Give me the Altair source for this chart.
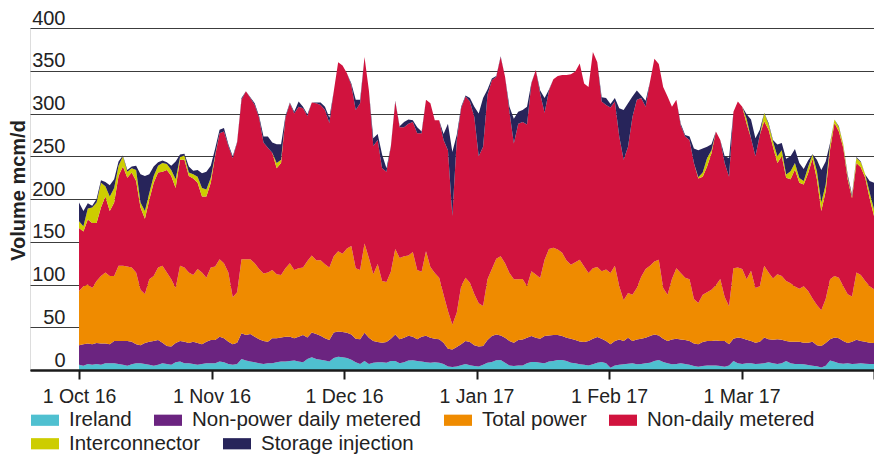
import altair as alt
import pandas as pd
import numpy as np

FONT = "Liberation Sans"

series_names = ["Ireland", "Non-power daily metered", "Total power",
                "Non-daily metered", "Interconnector", "Storage injection"]
colors = ["#4fc0d0", "#6b2480", "#ef8b00", "#d1133e", "#cdcd00", "#27245a"]
tick_labels = ["1 Oct 16", "1 Nov 16", "1 Dec 16", "1 Jan 17", "1 Feb 17", "1 Mar 17", ""]

dates = pd.date_range("2016-10-01", "2017-03-31", freq="D")  # daily, 182 days

# Cumulative stack boundaries (mcm/d), one value per day:
# each series fills the band between the previous boundary and its own.
top_ireland = [
    6, 5, 7, 6, 7, 6, 8, 8, 8, 7, 6, 5, 6.6, 8, 8, 7, 6, 5, 6, 8, 7, 6, 9, 10, 8, 8, 7, 6, 7, 8, 8, 8,
    10, 9, 7, 6, 7, 13, 11, 10, 9, 8, 7, 8, 8, 9, 10, 10, 10.5, 11, 10, 9, 13, 15, 13, 12, 11, 10, 14, 15.5, 15, 14,
    12, 9, 7, 10.5, 7, 8.5, 9, 9, 8.5, 10.5, 10.5, 8, 9, 11, 11.5, 10.5, 10, 9, 8.5, 9, 8.5, 7, 4, 3.5, 4, 5.5, 7, 5.5, 4.7, 4,
    6, 8.5, 9.3, 11.3, 11.7, 8.5, 5.4, 4.7, 5.4, 5.4, 7.8, 9.3, 9.3, 8.5, 7.8, 10, 10.5, 11.7, 11.7, 10.5, 8.5, 7.8, 6.6, 6.2, 5.4, 6.6, 8.5, 9.3, 7.8,
    2.7, 5.4, 6.2, 6.6, 7.4, 7.8, 6.6, 7, 7.8, 8.5, 10.5, 11.7, 9.3, 7.8, 6.6, 7, 7.8, 7, 6.2, 4.7, 3.9, 4.7, 5.4, 5.4, 5.4, 4.7, 3.9, 5.4, 10.5,
    8, 7, 7.8, 8, 7, 7.4, 8, 9, 8, 7, 8, 10.5, 8, 7, 7, 6.6, 5.8, 5, 4.3, 3, 5, 11, 9.7, 8, 7.4, 8, 7, 7.4, 8, 7.4, 7, 7,
]
top_npdm = [
    29, 30, 31, 30, 31.5, 31, 31, 30, 34, 34, 34, 34, 33, 30, 29, 31.5, 33, 34, 35, 32, 28, 27.6, 31.5, 34, 33, 31.5, 33, 31.5, 30, 33, 35, 35,
    39, 37, 33, 30, 32, 43, 41, 42, 39, 36, 34, 33, 37, 37, 38, 39, 39, 37, 39, 41, 38, 44, 42, 40, 37, 35, 44, 45, 44.5, 43.5,
    41.6, 36.5, 36, 43.5, 37.7, 34, 32.7, 32, 32.7, 36.5, 41.6, 36, 37.7, 40, 39, 36, 39, 40, 37.7, 36.5, 36, 32, 25, 24, 27, 30, 34, 32.7, 29, 27.5,
    28, 35, 39.7, 41.6, 40.4, 37.7, 34, 32, 35, 35.8, 37.7, 39.7, 37.7, 36.5, 39.7, 40.4, 41, 41, 39.7, 37.7, 36.5, 35, 33.4, 32.7, 34, 36.5, 38.5, 36.5, 34,
    30, 34, 35.8, 34, 37.7, 34, 35.8, 36.5, 37.7, 39.7, 41.6, 40.4, 36.5, 34, 35.8, 36.5, 35.8, 35, 34, 31, 30, 32.7, 34, 34, 34.6, 34, 34, 30, 36.5,
    38, 37, 35.4, 34, 32, 33, 38, 36, 35.4, 36, 35.4, 34, 33, 33, 33, 32, 32, 33, 29, 28, 31.5, 36, 38, 37, 34, 31.5, 33, 35.4, 34, 33, 32, 31.5,
]
top_power = [
    92.5, 98, 100, 96, 104, 110, 114, 110, 110, 122, 122, 121, 120, 114, 94, 89, 106, 110, 120, 122, 114, 106, 96, 122, 120, 114, 111, 118, 114, 108, 120, 121,
    129.5, 125, 114, 85, 91, 129.5, 129.5, 129.5, 125, 118, 113, 114, 117, 112, 111, 119, 125, 117, 119, 120, 127.5, 134, 128.5, 128.5, 123.6, 120, 133, 139, 136, 142,
    145, 119, 117, 148, 131, 112, 124, 104, 103, 115, 141.5, 131, 133, 134, 138, 117, 115, 139, 120.5, 113.5, 108, 88, 69, 53, 67, 98, 108, 102, 89, 78,
    75, 106, 118, 130, 133, 125, 113.5, 106, 106, 106.5, 98, 115.5, 111.6, 107.7, 129, 141.5, 143, 141, 137, 128, 123, 126, 129, 121, 113.5, 119, 120.5, 115.5, 117.4,
    113.5, 122, 98, 81.6, 90, 88, 96, 109, 118, 122, 127, 129, 96, 88, 106.5, 119, 113.5, 108, 106, 83, 78.5, 88, 91, 94, 99, 106.5, 85.5, 74.6, 119,
    120, 118, 106, 116, 96, 98, 122, 114, 107, 112, 110, 104, 101.5, 97.6, 95, 98, 92.5, 83.6, 76, 70, 83, 106, 110, 108, 98, 88.6, 86, 114, 111, 104, 98, 94.5,
]
top_ndm = [
    166, 162, 176, 172, 172, 190, 203, 186, 196, 227, 238, 225, 231, 221, 190, 177, 199, 219, 231, 232, 234, 227, 213, 246, 246, 227, 224, 219, 203, 203, 219, 251,
    277, 279, 262, 248, 266, 316, 326, 318, 310, 295, 266, 260, 254, 236, 242, 295, 312, 300, 308, 306, 297, 313, 312, 310, 304, 289, 326, 360, 356, 347,
    333, 304, 312, 366, 327, 262, 269, 236, 232, 261, 314, 284, 284, 288, 290, 277, 277, 316, 312, 292, 292, 269, 257, 180, 269, 306, 320, 314, 296, 250,
    261, 322, 339, 343, 366, 343, 302, 265, 288, 290, 287, 335, 351, 323, 301, 327, 340, 344, 345, 345, 346, 349, 358.5, 335, 331, 372, 360, 314, 310,
    307, 314, 273, 246, 261, 296, 316, 318, 308, 337, 364, 358, 331, 320, 308, 316, 286, 273, 269, 242, 224, 226, 238, 253.5, 279, 269, 242, 226, 302,
    314, 308, 288, 271, 250, 275, 291, 281, 261, 242, 250, 225, 223, 234.4, 219, 217, 230, 247, 223, 186, 209, 258, 289, 279, 260, 223, 201, 242, 237, 225, 201, 180,
]
top_ic = [
    174, 168, 189, 190, 196, 219, 215, 203, 213, 239, 250, 232, 236, 234, 196, 186, 207, 227, 239, 242, 241, 234, 223, 249, 251, 231, 229, 226, 213, 211, 225, 252,
    277, 279, 262, 248, 266, 316, 326, 318, 310, 295, 266, 260, 254, 242, 246, 295, 312, 300, 308, 306, 297, 313, 312, 310, 304, 289, 326, 360, 356, 347,
    333, 304, 312, 366, 327, 262, 269, 236, 232, 261, 314, 284, 284, 288, 290, 277, 277, 316, 312, 292, 292, 269, 257, 180, 269, 306, 320, 314, 296, 250,
    261, 322, 339, 343, 366, 343, 302, 265, 288, 290, 287, 335, 351, 323, 301, 327, 340, 344, 345, 345, 346, 349, 358.5, 335, 331, 372, 360, 314, 310,
    307, 314, 273, 246, 261, 296, 316, 318, 308, 337, 364, 358, 331, 320, 308, 316, 286, 273, 269, 242, 225.5, 231, 248, 257, 279, 269, 242, 226, 302,
    314, 308, 294, 271, 250, 275, 300.5, 287, 267.5, 250, 257, 228.6, 232.5, 242, 224.7, 221, 237.5, 252, 232.5, 196, 217, 263.6, 293, 284, 263.6, 226, 202.6, 248, 243, 228.6, 208, 188,
]
top_storage = [
    196, 186, 195, 192, 200, 222, 220, 216, 223, 244, 251, 234, 238, 239, 229, 227, 229, 238, 243, 245, 243, 239, 244, 252, 253, 238, 233, 234, 230, 232, 239, 259,
    281, 283, 264, 250, 267, 318, 326, 319, 312, 297, 273, 273, 266, 264, 264, 297, 313, 302, 314, 308, 299, 313, 313, 313, 308, 295, 326, 360, 356, 347,
    335, 316, 316, 366, 327, 271, 276, 252, 236, 262, 315, 285, 290, 293, 292, 284, 279, 316, 312, 292, 292, 276, 288, 255, 275, 308, 321, 318, 308, 300,
    318, 328, 341, 344, 367, 343, 308, 294, 302, 304, 308, 336, 351, 327, 318, 328, 340, 344, 345, 345, 346, 349, 358.5, 335, 331, 372, 360, 319, 318,
    311, 318, 306, 304, 312, 320, 327, 321, 315, 337, 364, 358, 331, 320, 308, 316, 288, 275, 273, 259, 257, 259, 261, 264, 279, 269, 250, 248, 302,
    314, 308, 299, 293, 271, 281, 301, 289, 269, 263.6, 265.6, 247, 250, 258.5, 242, 235, 245, 252.3, 246, 234, 244, 265.6, 293, 285, 264, 228.6, 205, 249, 244, 228.6, 221, 219,
]

n = len(dates)
bounds = [[0.0] * n, top_ireland, top_npdm, top_power, top_ndm, top_ic, top_storage]
day = (dates - dates[0]).days

rows = []
for k, name in enumerate(series_names):
    lo, hi = bounds[k], bounds[k + 1]
    for i in range(n):
        rows.append({"date": dates[i].strftime("%Y-%m-%d"), "day": int(day[i]),
                     "series": name, "lower": float(lo[i]),
                     "upper": float(max(hi[i], lo[i]))})
df = pd.DataFrame(rows)

span = int(day[-1])
tick_vals = [span * k / 6 for k in range(7)]
label_expr = "[" + ",".join("'%s'" % t for t in tick_labels) + "][round(datum.value * 6 / %d)]" % span

x_enc = alt.X("day:Q",
              scale=alt.Scale(domain=[-11.16, span], nice=False, zero=False),
              axis=alt.Axis(values=tick_vals, labelExpr=label_expr, title=None, grid=False,
                            domainColor="#1a1a1a", domainWidth=2.5,
                            tickColor="#1a1a1a", tickWidth=2, tickSize=9,
                            labelFontSize=19.5, labelFont=FONT, labelColor="#222222",
                            labelPadding=8, labelOverlap=False, labelFlush=False, zindex=1))
y_enc = alt.Y("upper:Q",
              scale=alt.Scale(domain=[0, 400], nice=False),
              axis=alt.Axis(values=list(range(0, 401, 50)), title="Volume mcm/d",
                            grid=True, gridColor="#3c3c3c", gridWidth=1,
                            domain=False, ticks=False, tickSize=0,
                            labelAlign="right", labelPadding=-35, labelBaseline="alphabetic",
                            labelOffset=-4, labelFontSize=20, labelFont=FONT, labelColor="#222222",
                            titleFontSize=20, titleFont=FONT, titleFontWeight="bold",
                            titleColor="#222222", titleAngle=270, titleX=-22, titleY=162,
                            titleAlign="center", titleBaseline="top"))
y2_enc = alt.Y2("lower:Q")


def legend_at(y):
    return alt.Legend(title=None, orient="none", legendX=1, legendY=y,
                      direction="horizontal",
                      symbolType="M-1,-0.4H1V0.4H-1Z", symbolSize=784,
                      symbolStrokeWidth=0, symbolOpacity=1,
                      labelFontSize=20.5, labelFont=FONT, labelColor="#222222",
                      labelOffset=10, columnPadding=22, labelLimit=500)


def layer_for(names, cols, legend_y):
    return alt.Chart(df).transform_filter(
        alt.FieldOneOfPredicate(field="series", oneOf=names)
    ).mark_area(interpolate="linear", opacity=1, strokeWidth=0).encode(
        x=x_enc, y=y_enc, y2=y2_enc,
        color=alt.Color("series:N", scale=alt.Scale(domain=names, range=cols),
                        legend=legend_at(legend_y)),
    )


lower_group = layer_for(series_names[:4], colors[:4], 378)
upper_group = layer_for(series_names[4:], colors[4:], 401.5)

chart = alt.layer(lower_group, upper_group).resolve_scale(color="independent").properties(
    width=844, height=342,
    autosize=alt.AutoSizeParams(type="none"),
    padding={"left": 22, "top": 20, "right": 0, "bottom": 84},
).configure_view(stroke=None).configure(font=FONT)

chart.save("out.html", embed_options={"renderer": "svg", "actions": False})
